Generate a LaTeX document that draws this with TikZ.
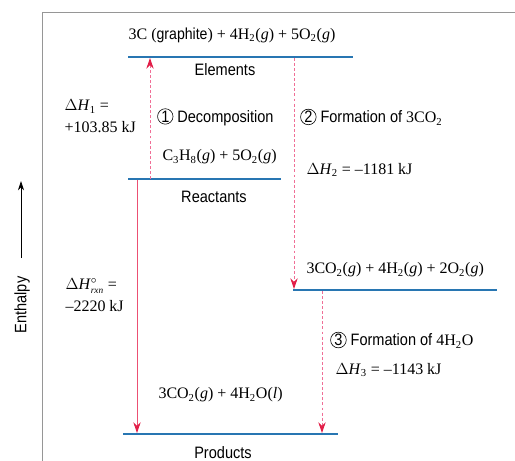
\documentclass[tikz,border=0pt]{standalone}
\usepackage{fontspec}
\setmainfont{Liberation Serif}
\newfontfamily\labelfont[FakeStretch=0.88]{Liberation Sans}
\usetikzlibrary{arrows.meta}

\definecolor{levelblue}{RGB}{40,118,178}
\definecolor{arrowred}{RGB}{226,30,72}
\definecolor{solidpink}{RGB}{236,80,115}
\definecolor{dashpink}{RGB}{240,110,150}

\newcommand{\chsub}[1]{\textsubscript{#1}}
\newcommand{\circnum}[1]{\tikz[baseline=(cn.base)]\node[circle,draw,inner sep=0.4pt,line width=0.45pt] (cn) {\labelfont #1};}
\newcommand{\lblsize}{\labelfont\fontsize{12.4}{15}\selectfont}

\tikzset{every picture/.style={line width=0.75pt}}
\tikzset{
  level/.style={draw=levelblue, line width=1.6pt},
  solidarrow/.style={draw=solidpink, line width=0.7pt, -{Stealth[length=8pt,width=5.5pt,color=arrowred,fill=arrowred]}},
  dasharrow/.style={draw=dashpink, dash pattern=on 2.2pt off 1.6pt, -{Stealth[length=8pt,width=5.5pt,color=arrowred,fill=arrowred]}},
}

\begin{document}
\begin{tikzpicture}[x=0.75pt,y=0.75pt,yscale=-1,xscale=1,font=\fontsize{12}{16}\selectfont]
\useasboundingbox (0,0) rectangle (515,461);

%Frame
\draw [color={rgb, 255:red, 150; green, 150; blue, 150 }] (42,461) -- (42,12) -- (515,12) ;

%Straight Lines [levels]
\draw [level] (128,57) coordinate (el-l) -- (353,57) coordinate (el-r) ;
\draw [level] (128,179) coordinate (re-l) -- (281,179) coordinate (re-r) ;
\draw [level] (293,290) coordinate (in-l) -- (497,290) coordinate (in-r) ;
\draw [level] (123,434) coordinate (pr-l) -- (338,434) coordinate (pr-r) ;

%Arrow ends
\coordinate (a1s) at (150,179) ; \coordinate (a1e) at (150,58) ;
\coordinate (a2s) at (294,58) ; \coordinate (a2e) at (294,289) ;
\coordinate (a3s) at (322,291) ; \coordinate (a3e) at (322,433) ;
\coordinate (rxs) at (137,180) ; \coordinate (rxe) at (137,433) ;

%Arrows
\draw [dasharrow] (a1s) -- (a1e) ;
\draw [dasharrow] (a2s) -- (a2e) ;
\draw [dasharrow] (a3s) -- (a3e) ;
\draw [solidarrow] (rxs) -- (rxe) ;

%Enthalpy axis
\coordinate (ens) at (21,258) ; \coordinate (ene) at (21,181) ;
\draw [-{Stealth[length=7pt,width=4.5pt]}, line width=0.6pt] (ens) -- (ene) ;
\draw (22,305) node [rotate=90][inner sep=0.75pt] [font=\lblsize] (enthalpy) {Enthalpy};

% Text Node
\draw (232,35) node [inner sep=0.75pt] (elements-eq) {3C ({\labelfont graphite}) + 4H\chsub{2}(\textit{g}) + 5O\chsub{2}(\textit{g})};
% Text Node
\draw (225,70) node [inner sep=0.75pt] [font=\lblsize] (elements) {Elements};
% Text Node
\draw (63,116) node [anchor=west][inner sep=0.75pt] [align=left] (dh1) {$\Delta$\textit{H}\chsub{1} =\\+103.85 kJ};
% Text Node
\draw (156,117) node [anchor=west][inner sep=0.75pt] [font=\lblsize] (step1) {\circnum{1} Decomposition};
% Text Node
\draw (299,117) node [anchor=west][inner sep=0.75pt] (step2) {{\lblsize\circnum{2} Formation of} 3CO\chsub{2}};
% Text Node
\draw (161,157) node [anchor=west][inner sep=0.75pt] (reactants-eq) {C\chsub{3}H\chsub{8}(\textit{g}) + 5O\chsub{2}(\textit{g})};
% Text Node
\draw (305,170) node [anchor=west][inner sep=0.75pt] (dh2) {$\Delta$\textit{H}\chsub{2} = –1181 kJ};
% Text Node
\draw (214,197) node [inner sep=0.75pt] [font=\lblsize] (reactants) {Reactants};
% Text Node
\draw (305,270) node [anchor=west][inner sep=0.75pt] (inter-eq) {3CO\chsub{2}(\textit{g}) + 4H\chsub{2}(\textit{g}) + 2O\chsub{2}(\textit{g})};
% Text Node
\draw (64,295) node [anchor=west][inner sep=0.75pt] [align=left] (dhrxn) {$\Delta$\textit{H}$^{\circ}_{\mbox{\scriptsize\itshape rxn}}$ =\\–2220 kJ};
% Text Node
\draw (329,340) node [anchor=west][inner sep=0.75pt] (step3) {{\lblsize\circnum{3} Formation of} 4H\chsub{2}O};
% Text Node
\draw (334,370) node [anchor=west][inner sep=0.75pt] (dh3) {$\Delta$\textit{H}\chsub{3} = –1143 kJ};
% Text Node
\draw (157,395) node [anchor=west][inner sep=0.75pt] (products-eq) {3CO\chsub{2}(\textit{g}) + 4H\chsub{2}O(\textit{l})};
% Text Node
\draw (223,453) node [inner sep=0.75pt] [font=\lblsize] (products) {Products};

\end{tikzpicture}
\end{document}
